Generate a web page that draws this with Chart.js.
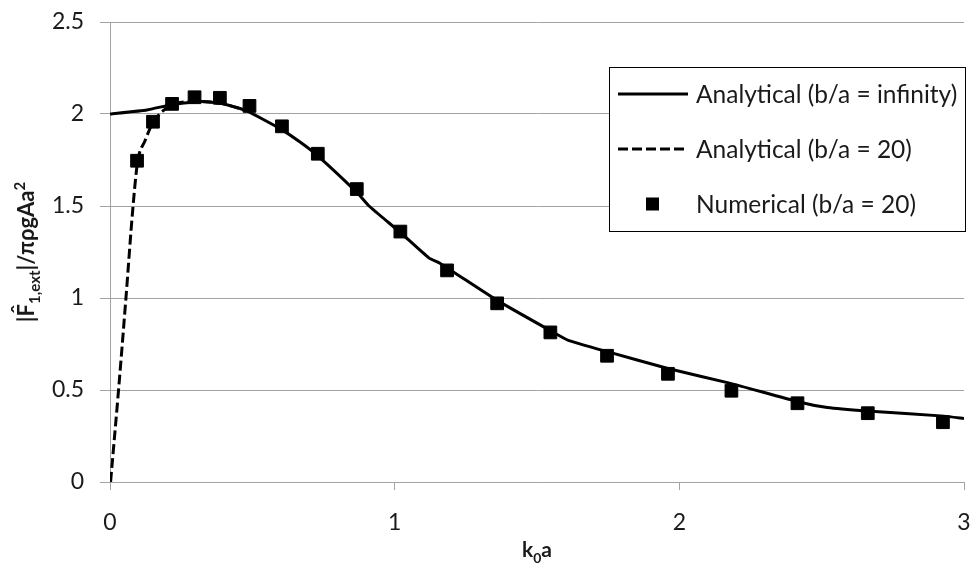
<!DOCTYPE html>
<html><head><meta charset="utf-8">
<script src="https://cdn.jsdelivr.net/npm/chart.js@4"></script>
<style>html,body{margin:0;padding:0;background:#fff;}#wrap{width:975px;height:575px;}</style>
</head><body><div id="wrap"><canvas id="c" width="975" height="575"></canvas></div>
<script>
// ---- data ----
const seriesNames = ['Analytical (b/a = infinity)', 'Analytical (b/a = 20)', 'Numerical (b/a = 20)'];
const infX = [0, 0.13, 0.22, 0.32, 0.39, 0.48, 0.60, 0.67, 0.73, 0.87, 0.91, 1.02, 1.12, 1.16, 1.36, 1.55, 1.61, 1.75, 1.96, 2.18, 2.42, 2.52, 2.66, 2.93, 3.0];
const infY = [2.00, 2.022, 2.052, 2.068, 2.058, 2.017, 1.918, 1.845, 1.773, 1.57, 1.50, 1.356, 1.218, 1.188, 0.987, 0.82, 0.77, 0.707, 0.617, 0.536, 0.435, 0.405, 0.386, 0.358, 0.345];
const b20X = [0.002, 0.03, 0.056, 0.081, 0.097, 0.123, 0.15, 0.186, 0.246, 0.32, 0.39, 0.48];
const b20Y = [0, 0.5, 1.0, 1.5, 1.74, 1.855, 1.95, 2.017, 2.062, 2.068, 2.058, 2.017];
const numX = [0.095, 0.151, 0.218, 0.297, 0.386, 0.490, 0.604, 0.730, 0.867, 1.020, 1.184, 1.360, 1.547, 1.746, 1.960, 2.183, 2.415, 2.662, 2.926];
const numY = [1.746, 1.958, 2.055, 2.091, 2.088, 2.044, 1.933, 1.784, 1.592, 1.361, 1.150, 0.971, 0.813, 0.686, 0.588, 0.496, 0.428, 0.374, 0.325];
const xTickLabels = ['0', '1', '2', '3'];
const yTickLabels = ['0', '0.5', '1', '1.5', '2', '2.5'];
const xTitleParts = [['k', 0], ['0', 1], ['a', 0]];
const yTitleParts = [['|F', 0], ['1,ext', 1], ['|/πρgAa', 0], ['2', 2]];

const pts = (xs, ys) => xs.map((x, i) => ({x, y: ys[i]}));
const FONT = 'Lato, "Liberation Sans", sans-serif';
const TXT = '#1a1a1a';
const GRID = '#a3a3a3';

function drawParts(ctx, parts, size, cx, cy, hatOnFirst) {
  const subSize = Math.round(size * 0.66);
  const widths = parts.map(([t, k]) => {
    ctx.font = 'bold ' + (k ? subSize : size) + 'px ' + FONT;
    return ctx.measureText(t).width;
  });
  const total = widths.reduce((a, b) => a + b, 0);
  let x = cx - total / 2;
  ctx.textAlign = 'left';
  ctx.textBaseline = 'alphabetic';
  parts.forEach(([t, k], i) => {
    ctx.font = 'bold ' + (k ? subSize : size) + 'px ' + FONT;
    const dy = k === 1 ? size * 0.28 : (k === 2 ? -size * 0.42 : 0);
    ctx.fillText(t, x, cy + dy);
    if (hatOnFirst && i === 0) {
      const wBar = ctx.measureText('|').width;
      const wF = ctx.measureText('F').width;
      ctx.textAlign = 'center';
      ctx.fillText('\u02C6', x + wBar + wF / 2 + 1, cy - size * 0.3);
      ctx.textAlign = 'left';
    }
    x += widths[i];
  });
}

const decor = {
  id: 'decor',
  afterDraw(chart) {
    const ctx = chart.ctx;
    const a = chart.chartArea;
    ctx.save();
    ctx.fillStyle = TXT;
    // x title
    drawParts(ctx, xTitleParts, 21, (a.left + a.right) / 2, 557, false);
    // y title
    ctx.save();
    ctx.translate(34, (a.top + a.bottom) / 2);
    ctx.rotate(-Math.PI / 2);
    drawParts(ctx, yTitleParts, 22, 0, 0, true);
    ctx.restore();
    // legend box
    const L = 609, T = 67, R = 966, B = 232;
    ctx.fillStyle = '#fff';
    ctx.fillRect(L, T, R - L, B - T);
    ctx.strokeStyle = '#000';
    ctx.lineWidth = 1;
    ctx.strokeRect(L + 0.5, T + 0.5, R - L - 1, B - T - 1);
    const rows = [94, 149, 204];
    ctx.font = '24.5px ' + FONT;
    ctx.textAlign = 'left';
    ctx.textBaseline = 'middle';
    rows.forEach((ry, i) => {
      const ds = chart.data.datasets[i];
      ctx.strokeStyle = '#000';
      ctx.fillStyle = '#000';
      if (i < 2) {
        ctx.lineWidth = 3;
        ctx.setLineDash(ds.borderDash || []);
        ctx.beginPath();
        ctx.moveTo(618, ry);
        ctx.lineTo(688, ry);
        ctx.stroke();
        ctx.setLineDash([]);
      } else {
        ctx.fillRect(646, ry - 6.5, 13, 13);
      }
      ctx.fillStyle = TXT;
      ctx.fillText(ds.label, 696, ry + 1);
    });
    ctx.restore();
  }
};

new Chart(document.getElementById('c'), {
  type: 'line',
  data: {
    datasets: [
      {label: seriesNames[0], data: pts(infX, infY), borderColor: '#000', borderWidth: 3, pointRadius: 0, tension: 0.15, borderJoinStyle: 'round', fill: false, order: 2},
      {label: seriesNames[1], data: pts(b20X, b20Y), borderColor: '#000', borderWidth: 3, borderDash: [10, 4], pointRadius: 0, cubicInterpolationMode: 'monotone', fill: false, order: 3},
      {label: seriesNames[2], data: pts(numX, numY), showLine: false, pointStyle: 'rect', pointRadius: 9, pointBackgroundColor: '#000', pointBorderColor: '#000', pointBorderWidth: 1, order: 1}
    ]
  },
  options: {
    responsive: false,
    devicePixelRatio: 1,
    animation: false,
    layout: {padding: {top: 22, right: 11, left: 0, bottom: 0}},
    plugins: {legend: {display: false}, tooltip: {enabled: false}},
    scales: {
      x: {
        type: 'linear', min: 0, max: 3,
        afterFit: s => { s.height = 93; s.paddingLeft = 0; s.paddingRight = 0; },
        ticks: {stepSize: 1, padding: 19, color: TXT, font: {family: FONT, size: 23}, callback: (v, i) => xTickLabels[i]},
        grid: {drawOnChartArea: false, drawTicks: true, tickLength: 8, color: GRID, tickColor: GRID},
        border: {display: true, color: GRID, width: 1}
      },
      y: {
        type: 'linear', min: 0, max: 2.5,
        afterFit: s => { s.width = 110; s.paddingTop = 0; s.paddingBottom = 0; },
        ticks: {stepSize: 0.5, padding: 16, color: TXT, font: {family: FONT, size: 23}, callback: (v, i) => yTickLabels[i]},
        grid: {color: GRID, tickColor: GRID, tickLength: 10, lineWidth: 1},
        border: {display: true, color: GRID, width: 1}
      }
    }
  },
  plugins: [decor]
});
</script>
</body></html>
